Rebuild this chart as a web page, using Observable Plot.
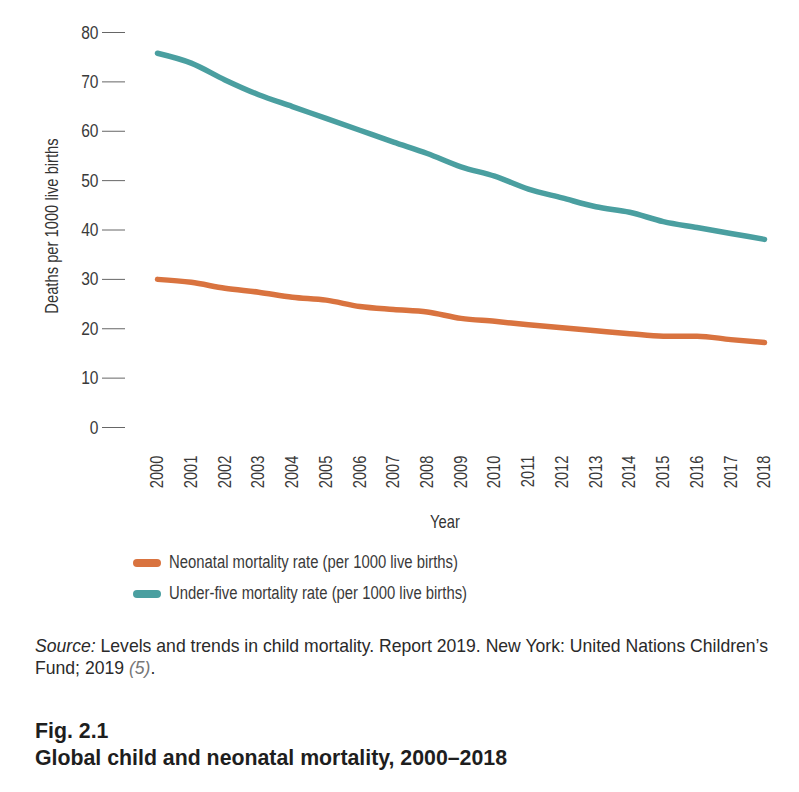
<!DOCTYPE html>
<html>
<head>
<meta charset="utf-8">
<script src="https://cdn.jsdelivr.net/npm/d3@7"></script>
<script src="https://cdn.jsdelivr.net/npm/@observablehq/plot@0.6"></script>
<style>
  html, body { margin: 0; padding: 0; background: #fff; }
  #wrap { position: relative; width: 799px; height: 792px; overflow: hidden;
          font-family: "Liberation Sans", Arial, sans-serif; color: #333; }
  #chart { position: absolute; left: 0; top: 0; }
  .leg { position: absolute; left: 133px; font-size: 18px; color: #3a3a3a; display: flex; align-items: center; white-space: nowrap; }
  .sw { width: 28px; height: 8px; border-radius: 4px; margin-right: 8px; flex: none; }
  .fit { display: inline-block; white-space: nowrap; transform-origin: 0 50%; }
  #source { position: absolute; left: 35px; top: 635px; font-size: 18.5px; line-height: 22px; color: #2a2a2a; }
  #source .ref { color: #777; font-style: italic; }
  #title { position: absolute; left: 35px; top: 718px; font-size: 21.5px; line-height: 27px; font-weight: bold; color: #1e1e1e; }
</style>
</head>
<body>
<div id="wrap">
  <div id="chart"></div>
  <div id="legend"></div>
  <div id="source"><span class="fit" id="src1"><i>Source:</i> Levels and trends in child mortality. Report 2019. New York: United Nations Children’s</span><br><span class="fit" id="src2">Fund; 2019 <span class="ref">(5)</span>.</span></div>
  <div id="title"><span class="fit" id="t1">Fig. 2.1</span><br><span class="fit" id="t2">Global child and neonatal mortality, 2000–2018</span></div>
</div>
<script>
const years = [2000, 2001, 2002, 2003, 2004, 2005, 2006, 2007, 2008, 2009, 2010, 2011, 2012, 2013, 2014, 2015, 2016, 2017, 2018];
const neonatal = [30.0, 29.4, 28.2, 27.4, 26.4, 25.8, 24.5, 23.9, 23.4, 22.1, 21.5, 20.8, 20.2, 19.6, 19.0, 18.5, 18.5, 17.8, 17.2];
const underFive = [75.8, 73.8, 70.4, 67.4, 65.0, 62.6, 60.2, 57.8, 55.5, 52.8, 50.9, 48.3, 46.5, 44.7, 43.6, 41.7, 40.5, 39.3, 38.1];
const yTicks = [0, 10, 20, 30, 40, 50, 60, 70, 80];
const seriesNames = ["Neonatal mortality rate (per 1000 live births)", "Under-five mortality rate (per 1000 live births)"];
const seriesColors = ["#d9733f", "#4a9fa0"];

const data = [
  ...years.map((yr, i) => ({year: yr, value: neonatal[i], series: seriesNames[0]})),
  ...years.map((yr, i) => ({year: yr, value: underFive[i], series: seriesNames[1]}))
];

const font = '"Liberation Sans", Arial, sans-serif';

const chart = Plot.plot({
  width: 799,
  height: 540,
  marginLeft: 125,
  marginRight: 35,
  marginTop: 32,
  marginBottom: 113,
  style: {fontFamily: font, fontSize: "19px", color: "#3a3a3a", background: "transparent"},
  x: {type: "linear", domain: [2000, 2018], insetLeft: 32},
  y: {domain: [0, 80]},
  color: {domain: seriesNames, range: seriesColors},
  marks: [
    Plot.axisY({ticks: yTicks, tickSize: 23, tickPadding: 4, stroke: "#666", label: null, fontSize: 19}),
    Plot.axisX({ticks: years, tickFormat: d => String(d), tickRotate: -90, tickSize: 0, tickPadding: 28, label: null, fontSize: 18}),
    Plot.text(["Deaths per 1000 live births"], {frameAnchor: "left", textAnchor: "middle", dx: -73, dy: -4, rotate: -90, fontSize: 18, fill: "#333"}),
    Plot.text(["Year"], {frameAnchor: "bottom", textAnchor: "middle", dy: 100, fontSize: 18, fill: "#333"}),
    Plot.line(data, {x: "year", y: "value", z: "series", stroke: "series", strokeWidth: 5.5, strokeLinecap: "round", strokeLinejoin: "round", curve: "monotone-x"})
  ]
});
document.getElementById("chart").appendChild(chart);

// condensed look: compress each text horizontally along its own baseline
const squeeze = 0.82;
chart.querySelectorAll("text").forEach(t => {
  const tr = t.getAttribute("transform") || "";
  t.setAttribute("transform", tr + ` scale(${squeeze},1)`);
  if (t.getAttribute("x")) t.setAttribute("x", +t.getAttribute("x") / squeeze);
});

const legend = document.getElementById("legend");
seriesNames.forEach((name, i) => {
  const row = document.createElement("div");
  row.className = "leg";
  row.style.top = (552 + i * 31) + "px";
  const sw = document.createElement("span");
  sw.className = "sw";
  sw.style.background = seriesColors[i];
  const t = document.createElement("span");
  t.className = "fit leg-t";
  t.textContent = name;
  row.appendChild(sw);
  row.appendChild(t);
  legend.appendChild(row);
});

function fit(ids, target) {
  const els = ids.map(id => typeof id === "string" ? document.getElementById(id) : id);
  const w = els[0].getBoundingClientRect().width;
  const s = target / w;
  els.forEach(e => e.style.transform = `scaleX(${s})`);
}
fit(["src1", "src2"], 733);
fit(["t2", "t1"], 472);
const legT = Array.from(document.querySelectorAll(".leg-t"));
fit(legT, 289);
</script>
</body>
</html>
